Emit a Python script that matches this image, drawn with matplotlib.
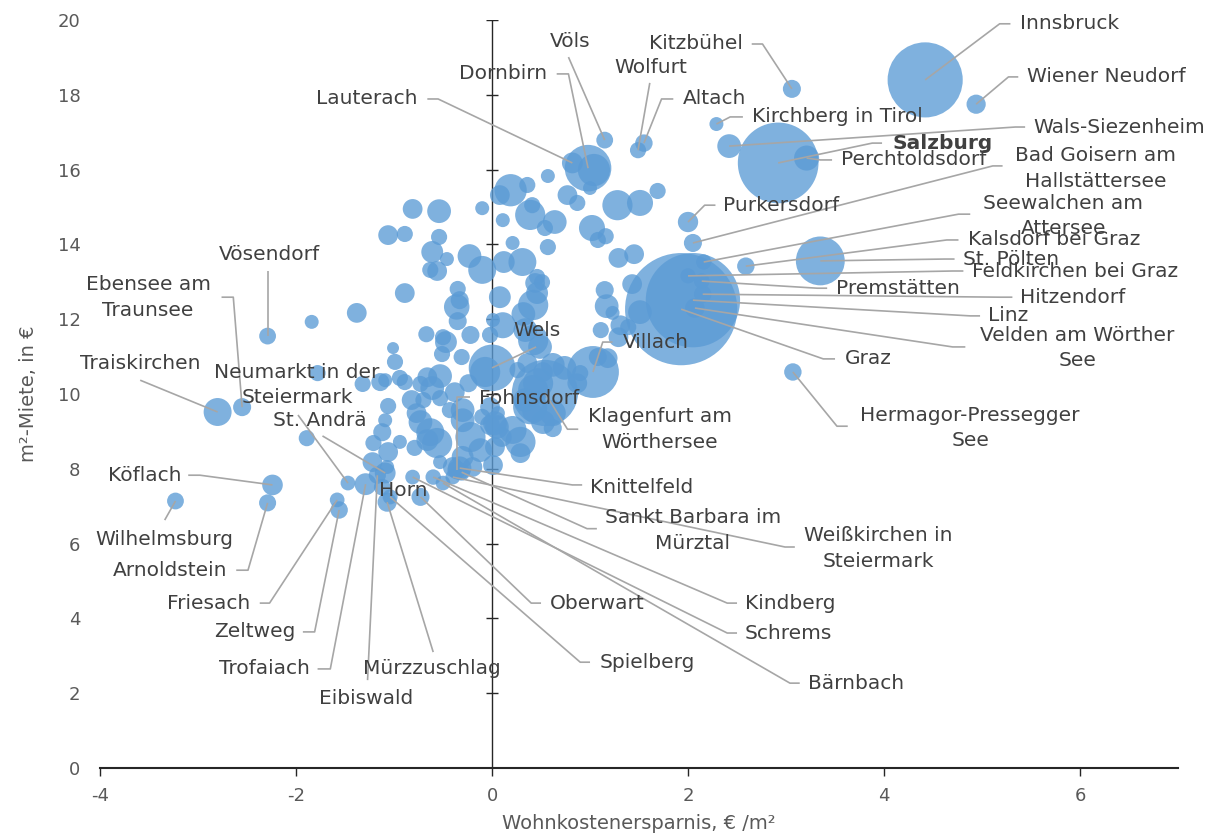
import numpy as np
import matplotlib
matplotlib.use("Agg")
import matplotlib.pyplot as plt

plt.rcParams['font.family'] = ['DejaVu Sans']
plt.rcParams['axes.unicode_minus'] = False

# labelled towns: name, Wohnkostenersparnis (x), m2-Miete (y), population (thousands)
towns = ["Innsbruck", "Wiener Neudorf", "Kitzbühel", "Kirchberg in Tirol", "Wals-Siezenheim",
         "Salzburg", "Perchtoldsdorf", "Altach", "Wolfurt", "Völs", "Dornbirn", "Lauterach",
         "Purkersdorf", "Bad Goisern am\nHallstättersee", "Seewalchen am\nAttersee",
         "Kalsdorf bei Graz", "St. Pölten", "Feldkirchen bei Graz", "Premstätten", "Hitzendorf",
         "Linz", "Velden am Wörther\nSee", "Graz", "Hermagor-Pressegger\nSee", "Villach", "Wels",
         "Klagenfurt am\nWörthersee", "Fohnsdorf", "Knittelfeld", "Sankt Barbara im\nMürztal",
         "Weißkirchen in\nSteiermark", "Kindberg", "Schrems", "Bärnbach", "Oberwart", "Spielberg",
         "Mürzzuschlag", "Horn", "Eibiswald", "Trofaiach", "Zeltweg", "Friesach", "Arnoldstein",
         "Köflach", "Wilhelmsburg", "Traiskirchen", "Ebensee am\nTraunsee",
         "Neumarkt in der\nSteiermark", "St. Andrä", "Vösendorf"]
town_x = [4.42, 4.94, 3.06, 2.29, 2.42, 2.92, 3.21, 1.55, 1.49, 1.15, 0.98, 0.82,
          2.00, 2.05, 2.16, 2.59, 3.35, 2.00, 2.14, 2.15, 2.05, 2.07, 1.93, 3.07, 1.03, 0.00,
          0.54, -0.36, -0.33, -0.31, -0.40, -0.60, -0.81, -0.50, -0.73, -1.04,
          -1.07, -1.12, -1.17, -1.29, -1.56, -1.58, -2.29, -2.24, -3.23, -2.80, -2.55,
          -1.47, -1.09, -2.29]
town_y = [18.40, 17.75, 18.16, 17.22, 16.63, 16.18, 16.31, 16.71, 16.52, 16.79, 16.04, 16.18,
          14.60, 14.04, 13.53, 13.42, 13.56, 13.16, 13.02, 12.67, 12.51, 12.30, 12.27, 10.59,
          10.59, 10.70, 10.03, 7.97, 8.02, 7.91, 7.78, 7.78, 7.78, 7.62, 7.25, 7.25,
          7.11, 7.51, 7.83, 7.59, 6.90, 7.17, 7.09, 7.57, 7.14, 9.52, 9.65,
          7.62, 7.89, 11.55]
town_pop = [130, 8.5, 7.5, 4.5, 13, 150, 14.5, 7, 6, 6.5, 50, 10,
            9.5, 7.5, 5.5, 7, 55, 5.5, 5.8, 7.3, 205, 9, 290, 7, 62, 50,
            101, 8, 12.6, 6.5, 5, 5.5, 5, 5, 7.5, 5.2,
            8.5, 6.5, 6.8, 11, 7, 5, 6.7, 9.8, 6.5, 18, 7.5,
            5, 10, 6.5]

# the other municipalities (no label)
other_x = [-0.81, -0.54, -1.06, -0.89, -0.54, -0.61, -0.46, -0.63, -0.56, -0.23, -0.10, -0.10,
           -0.89, -0.35, -0.36, -0.33, -0.35, -0.67, -0.50, -0.47, -0.51, -0.31, -0.22, 0.01,
           0.08, -1.38, -1.84, -1.78, -1.89,
           0.08, 0.19, 0.36, 0.57, 1.00, 1.04, 0.77, 0.87, 1.28, 1.51, 1.69, 0.11, 0.39, 0.41,
           0.64, 0.54, 1.02, 1.16, 1.08, 0.57, 0.21, 0.12, 0.31, 1.29, 1.45,
           0.44, 0.51, 0.46, 0.46, 0.42, 0.32, 0.11, -0.02, 0.34, 0.42, 0.49, 1.15, 1.17, 1.23,
           1.31, 1.11, 1.29, 1.39, 1.43, 1.51, 1.18, 1.08,
           -1.01, -0.99, -0.94, -1.09, -1.14, -1.32, -0.89, -0.73, -0.66, -0.53, -0.61, -0.53,
           -0.38, -0.24, -0.07, -1.06, -1.09, -1.12, -1.21, -1.06, -0.94, -1.22, -1.07, -0.82,
           -0.70, -0.77, -0.73, -0.63, -0.56, -0.66, -0.79, -0.53, -0.43, -0.30, -0.30, -0.22,
           -0.12, -0.30, -0.40, -0.20, -0.02, -0.10, 0.06, -0.02, 0.05, 0.01,
           0.21, 0.29, 0.10, 0.03, 0.29, 0.03, 0.34, 0.42, 0.41, 0.52, 0.62, 0.62, 0.39, 0.74,
           0.62, 0.52, 0.87, 0.90, 0.26, 0.36, 0.47]
other_y = [14.95, 14.89, 14.25, 14.28, 14.20, 13.80, 13.61, 13.32, 13.29, 13.69, 13.32, 14.97,
           12.70, 12.81, 12.33, 12.51, 11.95, 11.60, 11.52, 11.39, 11.07, 10.99, 11.58, 11.98,
           12.59, 12.17, 11.93, 10.56, 8.82,
           15.32, 15.45, 15.59, 15.83, 15.51, 15.99, 15.32, 15.11, 15.05, 15.11, 15.43, 14.65,
           14.79, 15.05, 14.60, 14.44, 14.44, 14.22, 14.12, 13.93, 14.04, 13.53, 13.53, 13.64,
           13.74,
           12.97, 12.99, 13.13, 12.70, 12.38, 12.14, 11.84, 11.58, 11.71, 11.44, 11.26, 12.78,
           12.35, 12.17, 11.84, 11.71, 11.52, 11.79, 12.94, 12.19, 10.96, 10.99,
           11.23, 10.86, 10.43, 10.37, 10.32, 10.27, 10.32, 10.27, 10.45, 10.48, 10.16, 9.89,
           10.05, 10.29, 10.59, 9.68, 9.30, 8.98, 8.69, 8.45, 8.72, 8.18, 8.05, 9.84,
           9.84, 9.49, 9.25, 8.98, 8.69, 8.77, 8.56, 8.18, 9.57, 9.57, 9.30, 8.85,
           8.50, 8.32, 8.05, 8.05, 9.17, 9.39, 9.49, 9.65, 9.12, 8.10,
           9.04, 8.72, 8.85, 8.58, 8.42, 9.22, 9.84, 10.11, 9.52, 9.25, 9.09, 9.49, 9.65, 10.70,
           10.78, 10.59, 10.29, 10.56, 10.64, 10.83, 10.29]
other_pop = [9, 13, 9, 6, 6, 11, 4.5, 6, 9, 13, 18, 4.5,
             9, 6, 15, 7.5, 7.5, 6, 6, 11, 6, 6, 7.5, 4.5,
             11, 9, 4.5, 6, 6,
             9, 24, 6, 4.5, 4.5, 24, 9, 6, 21, 15.6, 6, 4.5, 21, 6,
             13, 6, 15.6, 6, 6, 6, 4.5, 11, 18, 9, 9,
             9, 6, 6, 11, 21, 13, 15.6, 6, 13, 21, 13, 7.5, 13, 4.5,
             9, 6, 9, 6, 9, 13, 9, 7.5,
             3.3, 6, 6, 4.5, 7.5, 6, 6, 6, 9, 13, 13, 6,
             9, 7.5, 21, 6, 4.5, 7.5, 6, 9, 4.5, 9, 4.5, 9,
             6, 9, 13, 18, 21, 11, 6, 4.5, 6, 13, 13, 21,
             13, 11, 9, 9, 9, 6, 4.5, 9, 13, 9,
             18, 21, 9, 9, 9, 13, 13, 21, 9, 13, 7.5, 15.6, 27, 13,
             13, 9, 9, 6, 6, 9, 21]

# label layout: text x, text y, alignment, leader start x, leader y, elbow x
label_pos = {
    "Innsbruck": (5.39, 19.9, 'left', 5.29, 19.9, 5.18),
    "Wiener Neudorf": (5.46, 18.48, 'left', 5.37, 18.48, 5.27),
    "Kitzbühel": (2.56, 19.36, 'right', 2.65, 19.36, 2.76),
    "Kirchberg in Tirol": (2.65, 17.41, 'left', 2.56, 17.41, 2.43),
    "Wals-Siezenheim": (5.52, 17.14, 'left', 5.44, 17.14, 5.34),
    "Salzburg": (4.09, 16.71, 'left', 3.98, 16.71, 3.88),
    "Perchtoldsdorf": (3.56, 16.26, 'left', 3.47, 16.26, 3.35),
    "Altach": (1.95, 17.89, 'left', 1.85, 17.89, 1.73),
    "Wolfurt": (1.62, 18.74, 'center', 1.61, 18.32, None),
    "Völs": (0.80, 19.44, 'center', 0.78, 19.01, None),
    "Dornbirn": (0.56, 18.56, 'right', 0.66, 18.56, 0.78),
    "Lauterach": (-0.76, 17.89, 'right', -0.66, 17.89, -0.55),
    "Purkersdorf": (2.36, 15.05, 'left', 2.28, 15.05, 2.17),
    "Bad Goisern am\nHallstättersee": (6.16, 16.04, 'center', 5.21, 16.10, 5.11),
    "Seewalchen am\nAttersee": (5.83, 14.76, 'center', 4.88, 14.81, 4.76),
    "Kalsdorf bei Graz": (4.86, 14.12, 'left', 4.76, 14.12, 4.64),
    "St. Pölten": (4.81, 13.61, 'left', 4.72, 13.61, 4.62),
    "Feldkirchen bei Graz": (4.90, 13.29, 'left', 4.81, 13.29, 4.70),
    "Premstätten": (3.51, 12.83, 'left', 3.42, 12.83, 3.32),
    "Hitzendorf": (5.39, 12.59, 'left', 5.31, 12.59, 5.18),
    "Linz": (5.06, 12.09, 'left', 4.98, 12.09, 4.88),
    "Velden am Wörther\nSee": (5.97, 11.23, 'center', 4.83, 11.26, 4.70),
    "Graz": (3.60, 10.94, 'left', 3.50, 10.94, 3.38),
    "Hermagor-Pressegger\nSee": (4.88, 9.09, 'center', 3.63, 9.14, 3.52),
    "Villach": (1.34, 11.39, 'left', 1.23, 11.39, 1.13),
    "Wels": (0.22, 11.71, 'left', 0.45, 11.26, None),
    "Klagenfurt am\nWörthersee": (1.71, 9.06, 'center', 0.88, 9.06, 0.77),
    "Fohnsdorf": (-0.13, 9.87, 'left', -0.22, 9.92, -0.36),
    "Knittelfeld": (1.00, 7.51, 'left', 0.92, 7.57, 0.82),
    "Sankt Barbara im\nMürztal": (2.05, 6.36, 'center', 1.07, 6.40, 0.97),
    "Weißkirchen in\nSteiermark": (3.94, 5.88, 'center', 3.09, 5.91, 2.99),
    "Kindberg": (2.58, 4.41, 'left', 2.50, 4.41, 2.40),
    "Schrems": (2.58, 3.61, 'left', 2.50, 3.61, 2.40),
    "Bärnbach": (3.22, 2.27, 'left', 3.14, 2.27, 3.04),
    "Oberwart": (0.59, 4.41, 'left', 0.50, 4.41, 0.40),
    "Spielberg": (1.10, 2.83, 'left', 1.00, 2.83, 0.90),
    "Mürzzuschlag": (-0.61, 2.65, 'center', -0.60, 3.10, None),
    "Horn": (-0.91, 7.43, 'center', None, None, None),
    "Eibiswald": (-1.28, 1.87, 'center', -1.27, 2.35, None),
    "Trofaiach": (-1.86, 2.65, 'right', -1.78, 2.65, -1.65),
    "Zeltweg": (-2.01, 3.64, 'right', -1.93, 3.64, -1.81),
    "Friesach": (-2.47, 4.41, 'right', -2.37, 4.41, -2.27),
    "Arnoldstein": (-2.70, 5.29, 'right', -2.61, 5.29, -2.49),
    "Köflach": (-3.17, 7.83, 'right', -3.10, 7.83, -2.98),
    "Wilhelmsburg": (-3.34, 6.10, 'center', -3.34, 6.63, None),
    "Traiskirchen": (-3.59, 10.83, 'center', -3.59, 10.37, None),
    "Ebensee am\nTraunsee": (-3.51, 12.59, 'center', -2.76, 12.59, -2.64),
    "Neumarkt in der\nSteiermark": (-1.99, 10.24, 'center', -1.98, 9.44, None),
    "St. Andrä": (-1.76, 9.30, 'center', -1.73, 8.88, None),
    "Vösendorf": (-2.27, 13.74, 'center', -2.29, 13.29, None),
}

bubble_color = '#5B9BD5'
text_color = '#404040'
tick_color = '#595959'
leader_color = '#A6A6A6'
size_scale = 22.5  # points^2 per thousand inhabitants

fig = plt.figure(figsize=(12.05, 8.36), dpi=100)
ax = fig.add_axes([0.083, 0.0813, 0.8946, 0.8947])

ax.scatter(other_x, other_y, s=np.array(other_pop) * size_scale, color=bubble_color,
           alpha=0.78, linewidths=0, zorder=2)
ax.scatter(town_x, town_y, s=np.array(town_pop) * size_scale, color=bubble_color,
           alpha=0.78, linewidths=0, zorder=2)

for name, bx, by in zip(towns, town_x, town_y):
    tx, ty, ha, sx, sy, ex = label_pos[name]
    if sx is not None:
        xs = [sx] + ([ex] if ex is not None else []) + [bx]
        ys = [sy] + ([sy] if ex is not None else []) + [by]
        ax.plot(xs, ys, color=leader_color, lw=1.2, zorder=3, solid_capstyle='butt')
    ax.text(tx, ty, name, ha=ha, va='center', fontsize=14.5, color=text_color,
            fontweight='bold' if name == "Salzburg" else 'normal',
            linespacing=1.45, zorder=4)

ax.set_xlim(-4, 7)
ax.set_ylim(0, 20)
ax.set_xticks([-4, -2, 0, 2, 4, 6])
ax.set_yticks(np.arange(0, 21, 2))

# vertical axis through x = 0 with crossing ticks
ax.axvline(0, color='#262626', lw=1.0, zorder=1)
yt = np.arange(2, 21, 2)
ax.plot(np.zeros(len(yt)), yt, linestyle='none', marker='_', ms=9, mew=1.0,
        color='#262626', zorder=1)

for side in ['left', 'right', 'top']:
    ax.spines[side].set_visible(False)
ax.spines['bottom'].set_color('#262626')
ax.spines['bottom'].set_linewidth(1.5)
ax.tick_params(axis='y', length=0, pad=14, labelsize=13, labelcolor=tick_color)
ax.tick_params(axis='x', direction='out', length=6, width=1, color='#262626',
               pad=8, labelsize=13, labelcolor=tick_color)

ax.set_xlabel('Wohnkostenersparnis, € /m²', fontsize=14, color=tick_color, labelpad=6)
ax.set_ylabel('m²-Miete, in €', fontsize=14, color=tick_color, labelpad=14)

fig.savefig('out.png', dpi=100)
